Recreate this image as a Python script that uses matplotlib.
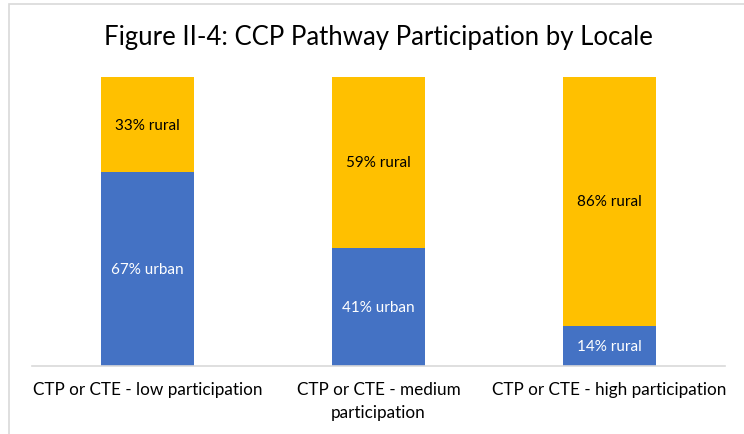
import matplotlib
matplotlib.use("Agg")
import matplotlib.pyplot as plt
from matplotlib.patches import Rectangle

categories = ["CTP or CTE - low participation", "CTP or CTE - medium\nparticipation", "CTP or CTE - high participation"]
lower_vals = [67, 41, 14]
upper_vals = [33, 59, 86]
lower_labels = ["67% urban", "41% urban", "14% rural"]
upper_labels = ["33% rural", "59% rural", "86% rural"]

BLUE = "#4472C4"
GOLD = "#FFC000"
FONT = ["Lato", "DejaVu Sans"]

fig = plt.figure(figsize=(7.44, 4.35), dpi=100)
fig.patches.append(Rectangle((9 / 744, -0.1), 1.2, 1 - 5 / 435 + 0.1, transform=fig.transFigure,
                             fill=False, edgecolor="#D9D9D9", linewidth=1.2))
ax = fig.add_axes([32 / 744, 1 - 367 / 435, 693 / 744, 289 / 435])

x = range(len(categories))
ax.bar(x, lower_vals, width=0.4, color=BLUE)
ax.bar(x, upper_vals, width=0.4, bottom=lower_vals, color=GOLD)

for i in x:
    ax.text(i, lower_vals[i] / 2, lower_labels[i], ha="center", va="center",
            color="white", fontsize=11, family=FONT)
    ax.text(i, lower_vals[i] + upper_vals[i] / 2, upper_labels[i], ha="center", va="center",
            color="black", fontsize=11, family=FONT)

ax.set_xlim(-0.5, 2.5)
ax.set_ylim(0, 100)
ax.set_yticks([])
ax.set_xticks(list(x))
ax.set_xticklabels(categories, fontsize=12.3, family=FONT, linespacing=1.55)
ax.tick_params(axis="x", length=0, pad=11)
for side in ["left", "right", "top"]:
    ax.spines[side].set_visible(False)
ax.spines["bottom"].set_color("#D9D9D9")
ax.spines["bottom"].set_linewidth(1.2)

fig.text(378 / 744, 1 - 37 / 435, "Figure II-4: CCP Pathway Participation by Locale",
         ha="center", va="center", fontsize=18.5, family=FONT)

fig.savefig("out.png", dpi=100)
